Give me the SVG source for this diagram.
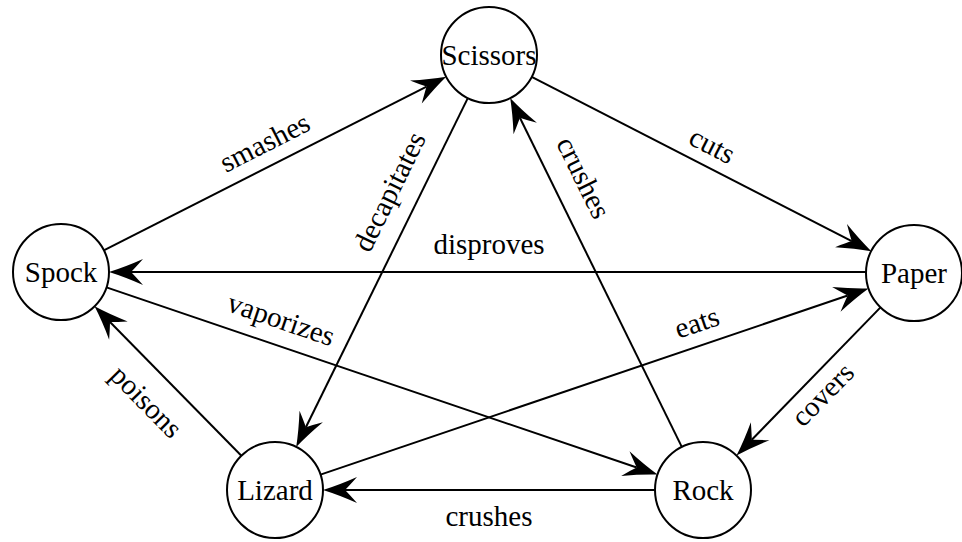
<svg xmlns="http://www.w3.org/2000/svg" width="962" height="542" viewBox="0 0 962 542">
<style>
.node circle{fill:#fff;stroke:#000;stroke-width:2}
text{font-family:"Liberation Serif","Tinos","Times New Roman","Noto Serif","DejaVu Serif",serif;font-size:29px;fill:#000}
.node text{text-anchor:middle}
.lbl{text-anchor:middle}
#edges line{stroke:#000;stroke-width:2;marker-end:url(#arr)}
</style>
<defs>
<marker id="arr" markerUnits="userSpaceOnUse" orient="auto" refX="0" refY="0" markerWidth="40" markerHeight="30" viewBox="-14 -15 40 30" overflow="visible">
<path d="M22,0 Q6,-5 -12,-13 Q-4,-4 0,0 Q-4,4 -12,13 Q6,5 22,0 Z" fill="#000"/>
</marker>
</defs>
<g id="edges">
<line x1="103.8" y1="250.3" x2="426.6" y2="86.6"/>
<line x1="531.7" y1="76.9" x2="851.7" y2="241.1"/>
<line x1="866" y1="272" x2="131" y2="272"/>
<line x1="467.8" y1="98.1" x2="305.9" y2="427.2"/>
<line x1="681.8" y1="446.9" x2="519.9" y2="117.8"/>
<line x1="106.5" y1="287.4" x2="636.7" y2="467.5"/>
<line x1="320.5" y1="474.6" x2="847.7" y2="295.5"/>
<line x1="241.4" y1="455.7" x2="110.0" y2="322.0"/>
<line x1="880.5" y1="307.4" x2="751.8" y2="439.8"/>
<line x1="655" y1="490" x2="345" y2="490"/>
<text class="lbl" font-family="Liberation Serif, serif" transform="translate(265,143) rotate(-26.9)" y="9">smashes</text>
<text class="lbl" font-family="Liberation Serif, serif" transform="translate(712,146) rotate(27.1)" y="9">cuts</text>
<text class="lbl" font-family="Liberation Serif, serif" x="489" y="254">disproves</text>
<text class="lbl" font-family="Liberation Serif, serif" transform="translate(390,192) rotate(-63.8)" y="9">decapitates</text>
<text class="lbl" font-family="Liberation Serif, serif" transform="translate(583,178) rotate(63.8)" y="9">crushes</text>
<text class="lbl" font-family="Liberation Serif, serif" transform="translate(281,320) rotate(18.8)" y="9">vaporizes</text>
<text class="lbl" font-family="Liberation Serif, serif" transform="translate(697,323) rotate(-18.8)" y="9">eats</text>
<text class="lbl" font-family="Liberation Serif, serif" transform="translate(146,402) rotate(45.5)" y="9">poisons</text>
<text class="lbl" font-family="Liberation Serif, serif" transform="translate(823,395) rotate(-45.7)" y="9">covers</text>
<text class="lbl" font-family="Liberation Serif, serif" x="489" y="526">crushes</text>
</g>
<g id="scissors" class="node"><circle cx="489" cy="55" r="48"/><text font-family="Liberation Serif, serif" x="489" y="65">Scissors</text></g>
<g id="spock" class="node"><circle cx="61" cy="272" r="48"/><text font-family="Liberation Serif, serif" x="61" y="282">Spock</text></g>
<g id="paper" class="node"><circle cx="914" cy="273" r="48"/><text font-family="Liberation Serif, serif" x="914" y="283">Paper</text></g>
<g id="lizard" class="node"><circle cx="275" cy="490" r="48"/><text font-family="Liberation Serif, serif" x="275" y="500">Lizard</text></g>
<g id="rock" class="node"><circle cx="703" cy="490" r="48"/><text font-family="Liberation Serif, serif" x="703" y="500">Rock</text></g>
</svg>
